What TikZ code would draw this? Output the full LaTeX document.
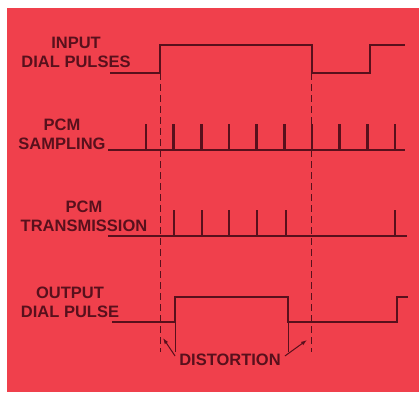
\documentclass[tikz,border=0pt]{standalone}
\usepackage{fontspec}
\setmainfont{Liberation Sans}
\usetikzlibrary{positioning,arrows.meta}
\definecolor{fondrouge}{RGB}{240,64,76}
\definecolor{traitfonce}{RGB}{88,16,28}
\tikzset{
  >={Latex[length=6pt,width=4pt]},
  etiquette/.style={text=traitfonce, align=center, inner sep=1pt,
    font=\fontsize{16.5}{19}\selectfont\bfseries},
  signal/.style={draw=traitfonce, line width=2.8pt, line join=miter},
  impulsion/.style={draw=traitfonce, line width=2.8pt},
  repere/.style={draw=traitfonce, line width=0.6pt, dashed, dash pattern=on 7pt off 4pt},
  guide/.style={draw=traitfonce, line width=0.6pt},
  fleche/.style={->, draw=traitfonce, line width=1pt},
}
\begin{document}
\begin{tikzpicture}[x=1pt,y=-1pt]
    % Fond
    \fill[white] (0,0) rectangle (419,392);
    \fill[fondrouge] (7,8) rectangle (419,392);
    \useasboundingbox (0,0) rectangle (419,392);
    % Etiquettes
    \node[etiquette] (entree) at (76,52.5)  {INPUT\\DIAL PULSES};
    \node[etiquette] (echant) at (62,134.5) {PCM\\SAMPLING};
    \node[etiquette] (trans)  at (84,216)   {PCM\\TRANSMISSION};
    \node[etiquette] (sortie) at (70,302.5) {OUTPUT\\DIAL PULSE};
    % Impulsions d'entree
    \draw[signal] (110,73) -- (160,73) -- (160,45) -- (312,45) -- (312,73)
      -- (370,73) -- (370,45) -- (405,45);
    % Echantillonnage MIC
    \draw[signal] (108,150) -- (405,150);
    \foreach \i in {0,...,9}
      \draw[impulsion] ({146+27.67*\i},150) -- ++(0,-26);
    % Transmission MIC
    \draw[signal] (108,236) -- (407,236);
    \foreach \x in {174,202,229,257,286,395}
      \draw[impulsion] (\x,236) -- ++(0,-26);
    % Impulsion de sortie
    \draw[signal] (112,322) -- (175,322) -- (175,297) -- (288,297) -- (288,322)
      -- (397,322) -- (397,297) -- (408,297);
    % Reperes
    \draw[repere] (160,73) -- (160,352);
    \draw[repere] (311,73) -- (311,352);
    \draw[guide] (175,322) -- (175,352);
    \draw[guide] (288,322) -- (288,352);
    % Distorsion
    \node[etiquette] (dist) at (230,360) {DISTORTION};
    \coordinate (pointeg) at (163,338);
    \coordinate (pointed) at (307,340);
    \draw[fleche] ([xshift=-3pt,yshift=-3pt]dist.north west) -- (pointeg);
    \draw[fleche] ([xshift=3pt,yshift=-3pt]dist.north east) -- (pointed);
\end{tikzpicture}
\end{document}
